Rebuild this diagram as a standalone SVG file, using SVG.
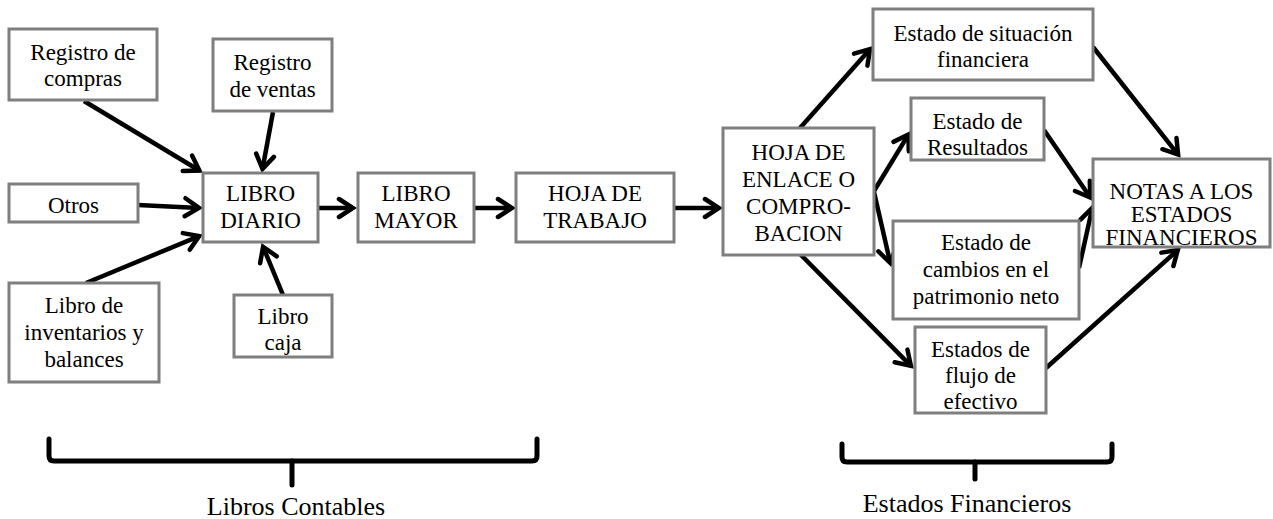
<svg xmlns="http://www.w3.org/2000/svg" width="1273" height="519" viewBox="0 0 1273 519">
<style>
.box{fill:#fff;stroke:#7f7f7f;stroke-width:3}
.c{fill:none;stroke:#000;stroke-width:4.5;marker-end:url(#ah)}
.br{fill:none;stroke:#000;stroke-width:5;stroke-linejoin:round;stroke-linecap:round}
</style>
<defs>
<marker id="ah" viewBox="-20 -12 24 24" refX="0" refY="0" markerWidth="24" markerHeight="24" markerUnits="userSpaceOnUse" orient="auto">
<path d="M-14,-9 L0,0 L-14,9" fill="none" stroke="#000" stroke-width="4.5" stroke-linejoin="miter" stroke-linecap="round"/>
</marker>
</defs>
<rect width="1273" height="519" fill="#fff"/>
<g id="connectors">
<line class="c" x1="84" y1="101" x2="199.4" y2="170.5"/>
<line class="c" x1="273" y1="112" x2="262.5" y2="169"/>
<line class="c" x1="138" y1="205" x2="199" y2="207.9"/>
<line class="c" x1="86" y1="283" x2="199.2" y2="236.1"/>
<line class="c" x1="283" y1="295" x2="263.1" y2="246.8"/>
<line class="c" x1="318" y1="208" x2="353" y2="208"/>
<line class="c" x1="474" y1="208" x2="512" y2="208"/>
<line class="c" x1="674" y1="208" x2="719" y2="208"/>
<line class="c" x1="800" y1="128" x2="870" y2="49.2"/>
<line class="c" x1="874" y1="191" x2="908.4" y2="134.6"/>
<line class="c" x1="874" y1="192" x2="890.3" y2="263"/>
<line class="c" x1="800" y1="254" x2="910.9" y2="365.9"/>
<line class="c" x1="1093" y1="47" x2="1178.1" y2="154.6"/>
<line class="c" x1="1044" y1="130" x2="1090.3" y2="197.5"/>
<line class="c" x1="1079" y1="268" x2="1092.3" y2="207.9"/>
<line class="c" x1="1046" y1="368" x2="1177.8" y2="250"/>
</g>
<g font-family="Liberation Serif, serif" font-size="23" fill="#000" text-anchor="middle">
<g id="registro-compras"><rect class="box" x="9" y="29" width="148" height="71"/><text x="83" y="60">Registro de</text><text x="83" y="86">compras</text></g>
<g id="registro-ventas"><rect class="box" x="213" y="39" width="119" height="72"/><text x="272.5" y="70">Registro</text><text x="272.5" y="97">de ventas</text></g>
<g id="otros"><rect class="box" x="9" y="184" width="129" height="38"/><text x="73.5" y="213">Otros</text></g>
<g id="libro-inventarios"><rect class="box" x="9" y="283" width="150" height="99"/><text x="84" y="313">Libro de</text><text x="84" y="340">inventarios y</text><text x="84" y="367">balances</text></g>
<g id="libro-caja"><rect class="box" x="234" y="295" width="98" height="62"/><text x="283" y="324">Libro</text><text x="283" y="350">caja</text></g>
<g id="libro-diario"><rect class="box" x="203" y="173" width="115" height="69"/><text x="260.5" y="201">LIBRO</text><text x="260.5" y="228">DIARIO</text></g>
<g id="libro-mayor"><rect class="box" x="358" y="173" width="116" height="69"/><text x="416" y="201">LIBRO</text><text x="416" y="228">MAYOR</text></g>
<g id="hoja-trabajo"><rect class="box" x="516" y="173" width="158" height="69"/><text x="595" y="201">HOJA DE</text><text x="595" y="228">TRABAJO</text></g>
<g id="hoja-enlace"><rect class="box" x="723" y="128" width="151" height="127"/><text x="798.5" y="160">HOJA DE</text><text x="798.5" y="187">ENLACE O</text><text x="798.5" y="214">COMPRO-</text><text x="798.5" y="241">BACION</text></g>
<g id="estado-situacion"><rect class="box" x="873" y="9" width="220" height="71"/><text x="983" y="41">Estado de situación</text><text x="983" y="67">financiera</text></g>
<g id="estado-resultados"><rect class="box" x="911" y="98" width="133" height="62"/><text x="977.5" y="129">Estado de</text><text x="977.5" y="155">Resultados</text></g>
<g id="estado-cambios"><rect class="box" x="893" y="221" width="186" height="98"/><text x="986" y="250">Estado de</text><text x="986" y="277">cambios en el</text><text x="986" y="304">patrimonio neto</text></g>
<g id="estado-flujo"><rect class="box" x="915" y="327" width="131" height="86"/><text x="980.5" y="357">Estados de</text><text x="980.5" y="383">flujo de</text><text x="980.5" y="409">efectivo</text></g>
<g id="notas"><rect class="box" x="1093" y="159" width="177" height="88"/><text x="1181.5" y="199">NOTAS A LOS</text><text x="1181.5" y="222">ESTADOS</text><text x="1181.5" y="245">FINANCIEROS</text></g>
<g id="brace-libros">
<path class="br" d="M49,439 L49,456 Q49,461 54,461 L532,461 Q537,461 537,456 L537,439"/>
<path class="br" d="M292,461 L292,485"/>
<text x="296" y="515" font-size="26">Libros Contables</text>
</g>
<g id="brace-estados">
<path class="br" d="M842,444 L842,457 Q842,462 847,462 L1107,462 Q1112,462 1112,457 L1112,444"/>
<path class="br" d="M975,462 L975,479"/>
<text x="967" y="512" font-size="26">Estados Financieros</text>
</g>
</g>
</svg>
